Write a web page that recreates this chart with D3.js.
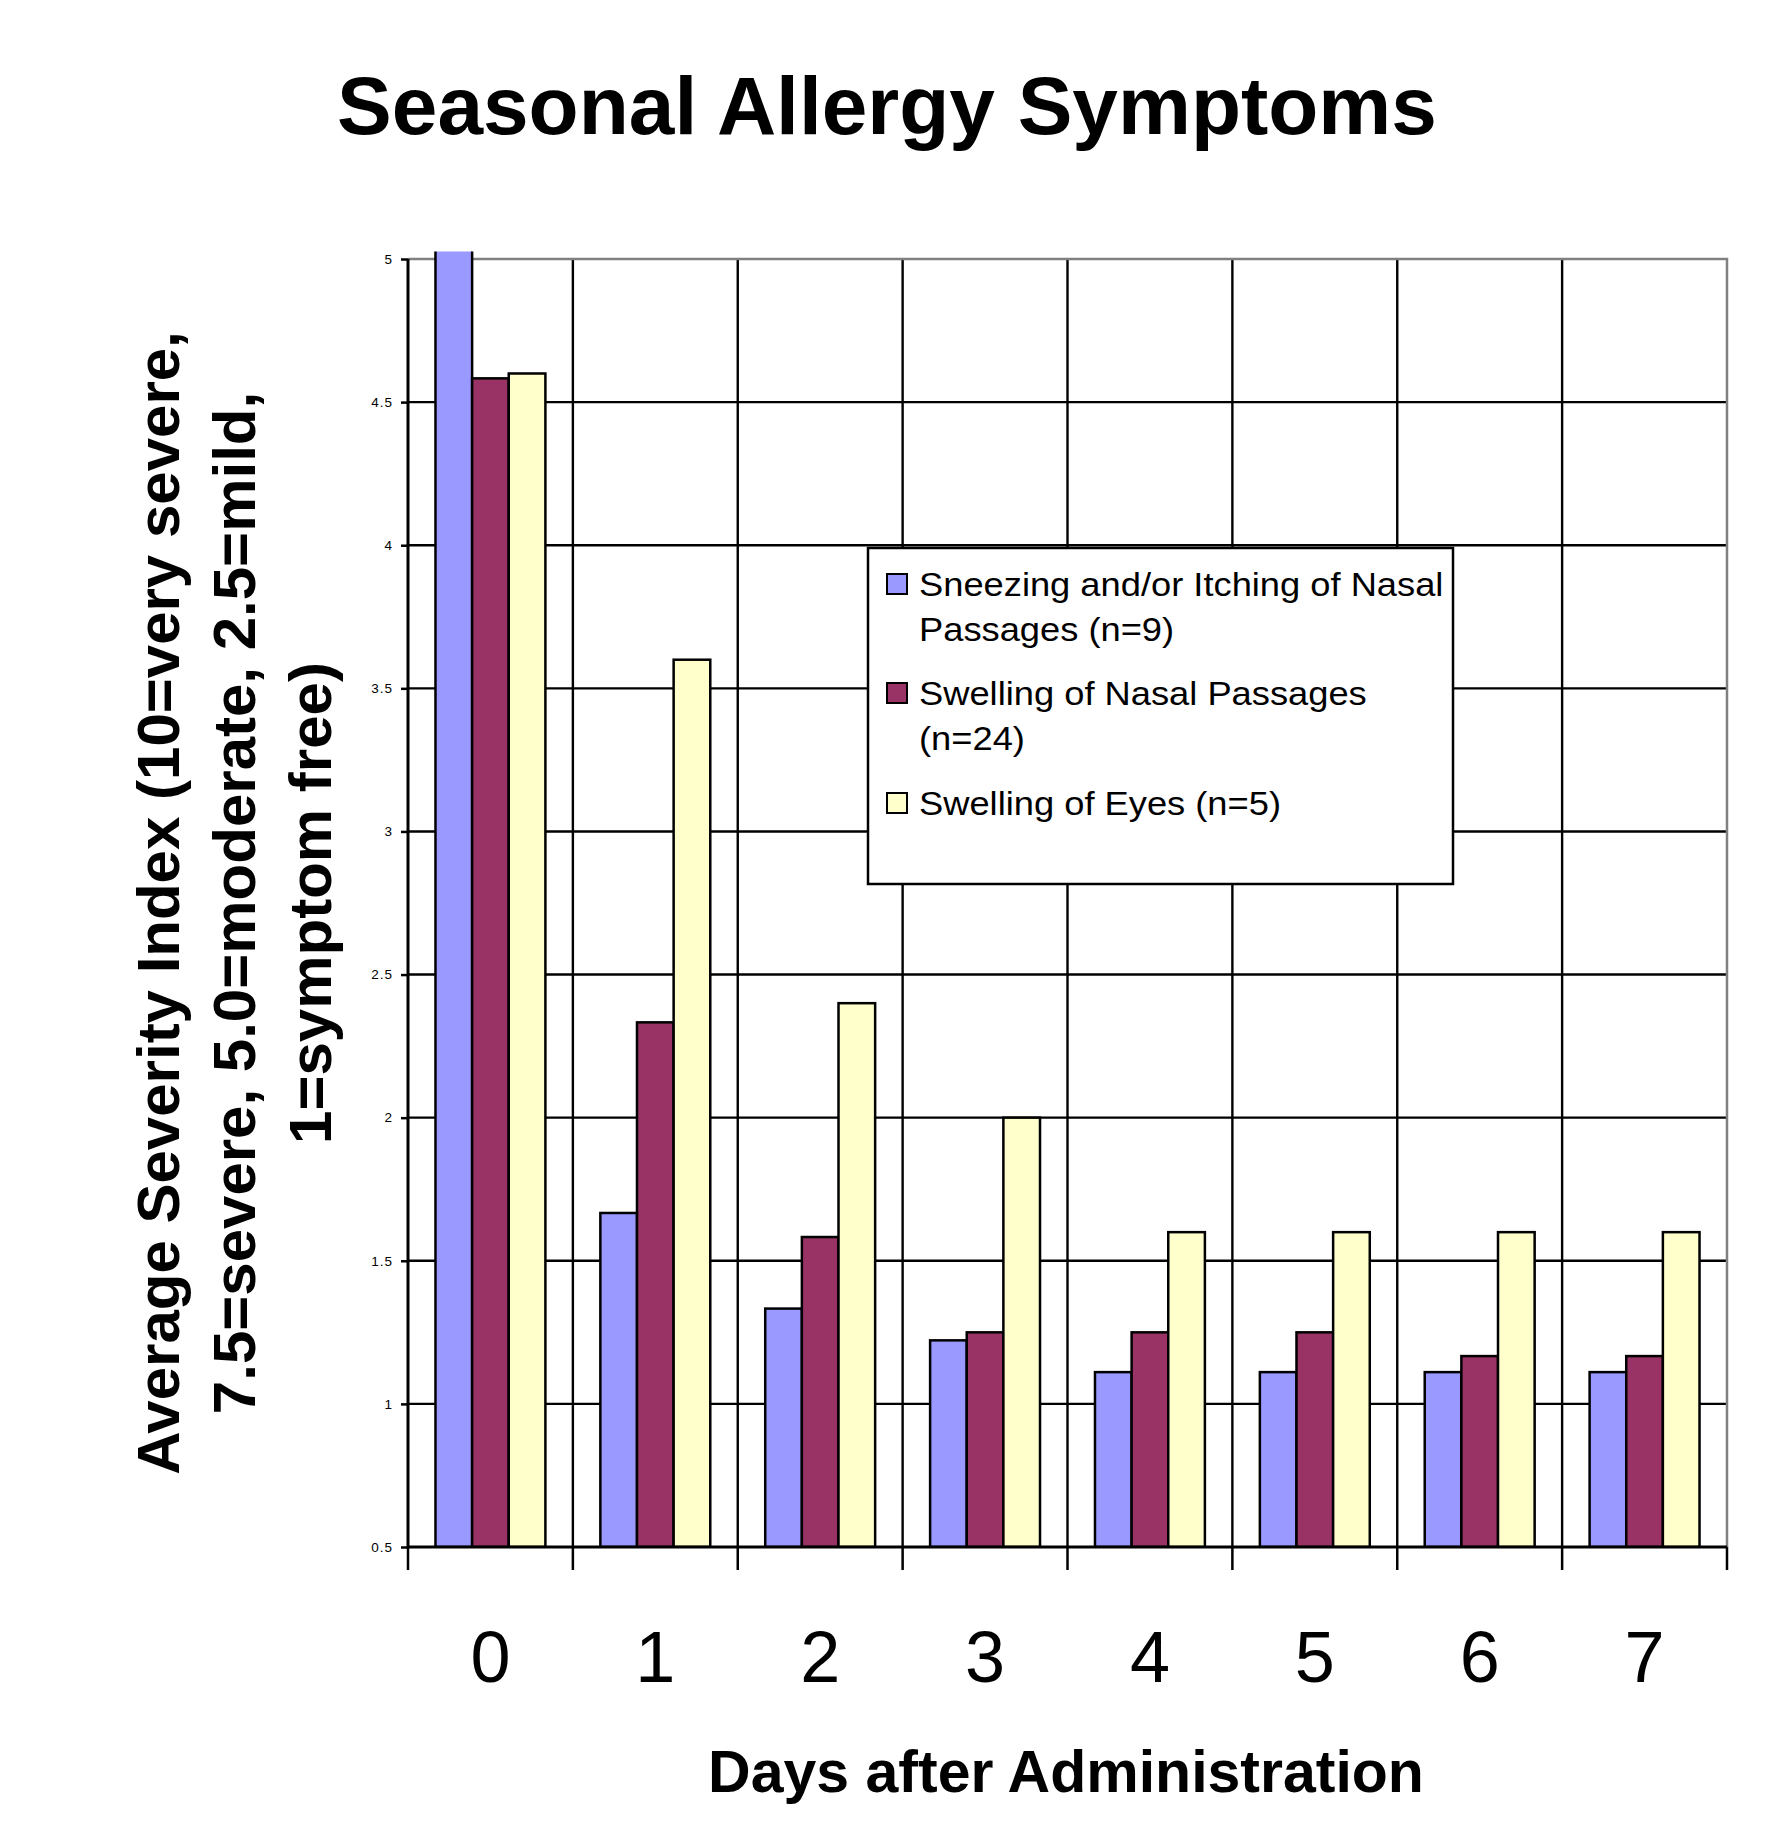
<!DOCTYPE html>
<html>
<head>
<meta charset="utf-8">
<script src="https://cdn.jsdelivr.net/npm/d3@7"></script>
<style>
  body { margin: 0; background: #fff; }
  text { font-family: "Liberation Sans", Arial, sans-serif; fill: #000; }
</style>
</head>
<body>
<svg id="chart"></svg>
<script>
// valores
var days = ["0", "1", "2", "3", "4", "5", "6", "7"];
var sneezing = [5.22, 1.667, 1.333, 1.222, 1.111, 1.111, 1.111, 1.111];
var swellingNasal = [4.583, 2.333, 1.583, 1.25, 1.25, 1.25, 1.167, 1.167];
var swellingEyes = [4.6, 3.6, 2.4, 2.0, 1.6, 1.6, 1.6, 1.6];
var yTicks = [0.5, 1, 1.5, 2, 2.5, 3, 3.5, 4, 4.5, 5];
var seriesNames = ["sneezing", "nasal", "eyes"];
var seriesLabels = [
	["Sneezing and/or Itching of Nasal", "Passages (n=9)"],
	["Swelling of Nasal Passages", "(n=24)"],
	["Swelling of Eyes (n=5)"]
];
var seriesColors = ["#9999FF", "#993366", "#FFFFCC"];

var width = 1768, height = 1839;
var plot = { left: 408, right: 1727, top: 259, bottom: 1547 };

var svg = d3.select("#chart")
	.attr("width", width)
	.attr("height", height);

var x = d3.scaleBand()
	.domain(days)
	.range([plot.left, plot.right])
	.paddingInner(0);

var x1 = d3.scaleBand()
	.domain(seriesNames)
	.range([0, x.bandwidth()])
	.paddingInner(0)
	.paddingOuter(0.75);

var y = d3.scaleLinear()
	.domain([0.5, 5])
	.range([plot.bottom, plot.top]);

var rows = days.map(function(d, i) {
	return { day: d, values: [sneezing[i], swellingNasal[i], swellingEyes[i]] };
});

// rejilla horizontal
svg.append("g")
	.selectAll("line")
	.data(yTicks.filter(function(v) { return v > 0.5 && v < 5; }))
	.enter().append("line")
	.attr("x1", plot.left).attr("x2", plot.right)
	.attr("y1", function(d) { return y(d); })
	.attr("y2", function(d) { return y(d); })
	.attr("stroke", "#000")
	.attr("stroke-width", 2.4);

// rejilla vertical
svg.append("g")
	.selectAll("line")
	.data(days.slice(1))
	.enter().append("line")
	.attr("x1", function(d) { return x(d); })
	.attr("x2", function(d) { return x(d); })
	.attr("y1", plot.top).attr("y2", plot.bottom)
	.attr("stroke", "#000")
	.attr("stroke-width", 2.4);

// borde gris arriba y derecha
svg.append("path")
	.attr("d", "M" + plot.left + "," + y(5) + "H" + plot.right + "V" + plot.bottom)
	.attr("fill", "none")
	.attr("stroke", "#808080")
	.attr("stroke-width", 2.5);

// clip: la primera barra sobresale un poco del area
svg.append("clipPath")
	.attr("id", "plotclip")
	.append("rect")
	.attr("x", plot.left)
	.attr("y", plot.top - 7.5)
	.attr("width", plot.right - plot.left)
	.attr("height", plot.bottom - plot.top + 7.5);

var groups = svg.append("g")
	.attr("clip-path", "url(#plotclip)")
	.selectAll("g")
	.data(rows)
	.enter().append("g")
	.attr("transform", function(d) { return "translate(" + x(d.day) + ",0)"; });

groups.selectAll("rect")
	.data(function(d) { return d.values; })
	.enter().append("rect")
	.attr("x", function(d, i) { return x1(seriesNames[i]); })
	.attr("y", function(d) { return y(d); })
	.attr("width", x1.bandwidth())
	.attr("height", function(d) { return plot.bottom - y(d); })
	.attr("fill", function(d, i) { return seriesColors[i]; })
	.attr("stroke", "#000")
	.attr("stroke-width", 2.5);

// eje Y
var yAxis = svg.append("g")
	.attr("transform", "translate(" + plot.left + ",0)")
	.call(d3.axisLeft(y)
		.tickValues(yTicks)
		.tickSize(7)
		.tickPadding(8)
		.tickFormat(function(d) { return String(d); }));
yAxis.select(".domain").remove();
yAxis.selectAll(".tick line").attr("stroke", "#000").attr("stroke-width", 2.5);
yAxis.selectAll(".tick text")
	.style("font-family", "'Liberation Sans', Arial, sans-serif")
	.style("font-size", "13.5px")
	.style("letter-spacing", "1px")
	.attr("fill", "#222");

svg.append("line")
	.attr("x1", plot.left).attr("x2", plot.left)
	.attr("y1", plot.top).attr("y2", plot.bottom + 1.5)
	.attr("stroke", "#000").attr("stroke-width", 3);

// eje X
var xAxis = svg.append("g")
	.attr("transform", "translate(0," + plot.bottom + ")")
	.call(d3.axisBottom(x).tickSize(0).tickPadding(86));
xAxis.select(".domain").remove();
xAxis.selectAll(".tick text")
	.style("font-family", "'Liberation Sans', Arial, sans-serif")
	.style("font-size", "72px")
	.attr("dy", 0)
	.attr("y", 135);

svg.append("line")
	.attr("x1", plot.left).attr("x2", plot.right)
	.attr("y1", plot.bottom).attr("y2", plot.bottom)
	.attr("stroke", "#000").attr("stroke-width", 3);

svg.append("g")
	.selectAll("line")
	.data(days.concat(["end"]))
	.enter().append("line")
	.attr("x1", function(d) { return d === "end" ? plot.right : x(d); })
	.attr("x2", function(d) { return d === "end" ? plot.right : x(d); })
	.attr("y1", plot.bottom)
	.attr("y2", plot.bottom + 23)
	.attr("stroke", "#000")
	.attr("stroke-width", 2.5);

// titulos
svg.append("text")
	.attr("x", 887).attr("y", 134)
	.attr("text-anchor", "middle")
	.style("font-size", "82px")
	.style("font-weight", "bold")
	.text("Seasonal Allergy Symptoms");

svg.append("text")
	.attr("x", 1066).attr("y", 1792)
	.attr("text-anchor", "middle")
	.style("font-size", "59px")
	.style("font-weight", "bold")
	.text("Days after Administration");

var yTitle = ["Average Severity Index (10=very severe,",
	"7.5=severe, 5.0=moderate, 2.5=mild,",
	"1=symptom free)"];
svg.append("g")
	.attr("transform", "translate(179,903) rotate(-90)")
	.selectAll("text")
	.data(yTitle)
	.enter().append("text")
	.attr("x", 0)
	.attr("y", function(d, i) { return i * 76; })
	.attr("text-anchor", "middle")
	.style("font-size", "60px")
	.style("font-weight", "bold")
	.text(function(d) { return d; });

// leyenda
var legend = svg.append("g").attr("transform", "translate(868,548)");
legend.append("rect")
	.attr("width", 585).attr("height", 336)
	.attr("fill", "#fff")
	.attr("stroke", "#000")
	.attr("stroke-width", 2.5);

var entryY = [48, 157, 267];
var items = legend.selectAll("g.item")
	.data(seriesLabels)
	.enter().append("g")
	.attr("class", "item")
	.attr("transform", function(d, i) { return "translate(0," + entryY[i] + ")"; });

items.append("rect")
	.attr("x", 19).attr("y", -22)
	.attr("width", 20).attr("height", 20)
	.attr("fill", function(d, i) { return seriesColors[i]; })
	.attr("stroke", "#000")
	.attr("stroke-width", 2);

items.append("text")
	.attr("transform", "translate(51,0) scale(1.1,1)")
	.style("font-size", "33px")
	.selectAll("tspan")
	.data(function(d) { return d; })
	.enter().append("tspan")
	.attr("x", 0)
	.attr("y", function(d, i) { return i * 45.5; })
	.text(function(d) { return d; });
</script>
</body>
</html>
